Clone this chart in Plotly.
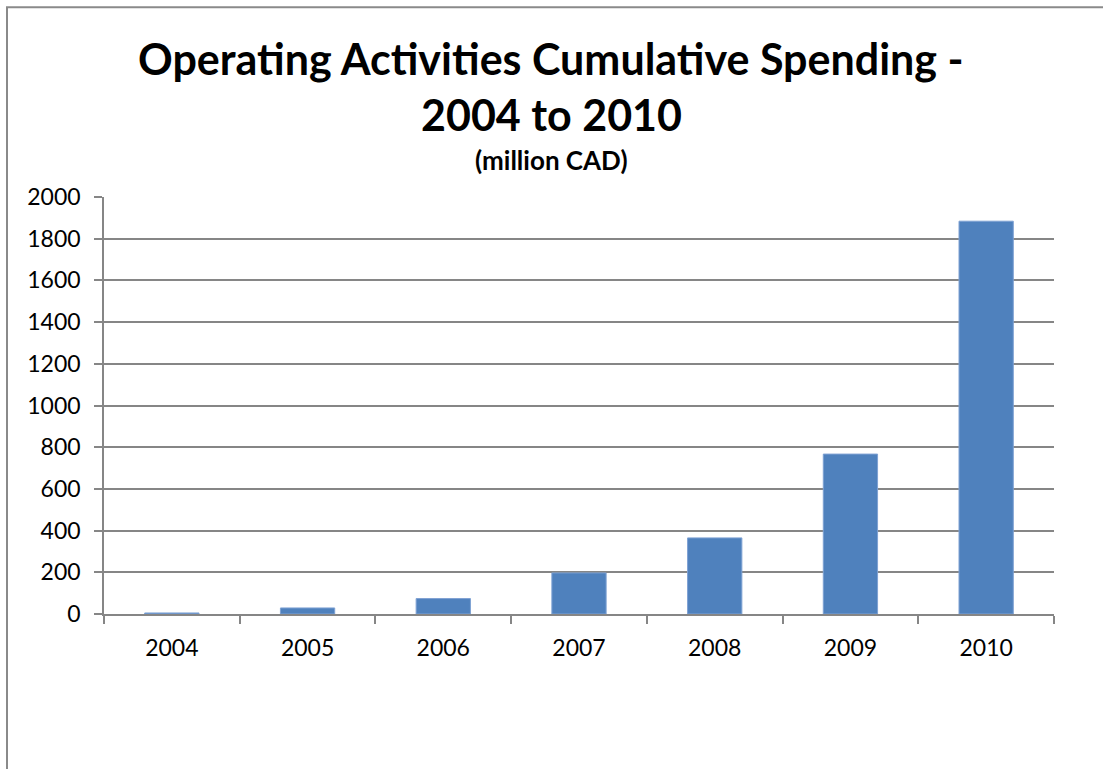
import plotly.graph_objects as go

years = ["2004", "2005", "2006", "2007", "2008", "2009", "2010"]
spending = [5, 29, 74, 197, 365, 767, 1884]

title_line1 = "Operating Activities Cumulative Spending -"
title_line2 = "2004 to 2010"
subtitle = "(million CAD)"

W, H = 1103, 769
L, R, T, B = 104, 1054, 196.7, 614.5
pw, ph = R - L, B - T

def px_x(x):
    return (x - L) / pw

def px_y(y):
    return (B - y) / ph

FONT = "Lato"
grid = "#868686"
cx = px_x(551)

fig = go.Figure(go.Bar(
    x=years, y=spending,
    marker=dict(color="#4F81BD", line=dict(color="#7EA1D3", width=1)),
))

fig.update_layout(
    width=W, height=H,
    margin=dict(l=L, r=W - R, t=T, b=H - B, pad=0),
    paper_bgcolor="white", plot_bgcolor="white",
    bargap=0.6,
    showlegend=False,
    font=dict(family=FONT, color="black"),
    xaxis=dict(
        type="category", showgrid=False, showline=True, linecolor=grid, linewidth=1.5,
        ticks="outside", tickson="boundaries", ticklen=8, tickcolor=grid, tickwidth=1.5,
        tickfont=dict(size=23, family=FONT, color="black"), ticklabelstandoff=13,
    ),
    yaxis=dict(
        range=[0, 2000], dtick=200, showgrid=True, gridcolor=grid, gridwidth=1.5,
        showline=True, linecolor=grid, linewidth=1.5, zeroline=False,
        ticks="outside", ticklen=8, tickcolor=grid, tickwidth=1.5,
        tickfont=dict(size=23, family=FONT, color="black"), ticklabelstandoff=9,
    ),
    annotations=[
        dict(text="<b>%s</b>" % title_line1, x=cx, xref="paper", y=px_y(58), yref="paper",
             xanchor="center", yanchor="middle", showarrow=False, font=dict(size=43, family=FONT)),
        dict(text="<b>%s</b>" % title_line2, x=cx, xref="paper", y=px_y(114), yref="paper",
             xanchor="center", yanchor="middle", showarrow=False, font=dict(size=43, family=FONT)),
        dict(text="<b>%s</b>" % subtitle, x=cx, xref="paper", y=px_y(160), yref="paper",
             xanchor="center", yanchor="middle", showarrow=False, font=dict(size=26, family=FONT)),
    ],
    shapes=[
        dict(type="rect", xref="paper", yref="paper",
             x0=px_x(7), x1=px_x(1130), y0=px_y(800), y1=px_y(6.5),
             line=dict(color="#8a8a8a", width=2), fillcolor="rgba(0,0,0,0)", layer="below"),
    ],
)

fig.write_html("out.html")
